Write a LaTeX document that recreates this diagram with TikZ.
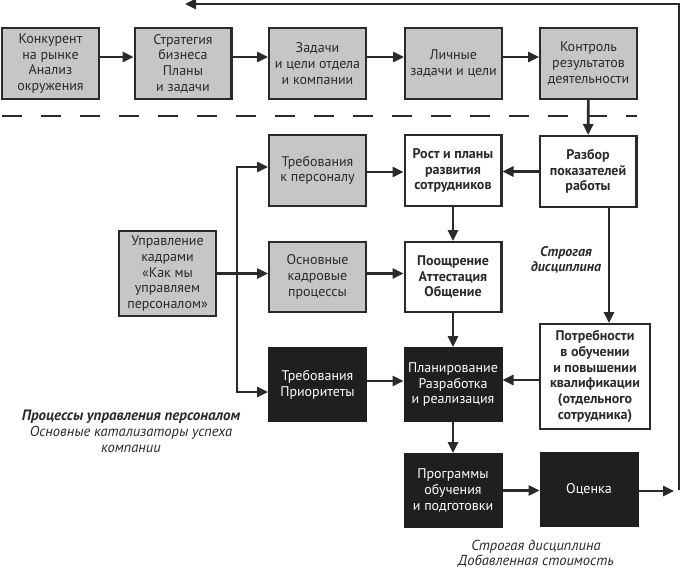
\documentclass[tikz,border=0pt]{standalone}
\usepackage{fontspec}
\setmainfont{PT Sans}
\usetikzlibrary{arrows.meta}
\definecolor{boxgray}{HTML}{C6C6C6}
\definecolor{boxdark}{HTML}{1F1F1F}
\definecolor{linegray}{HTML}{2A2A2A}
\begin{document}
\begin{tikzpicture}[x=1pt,y=-1pt,
    box/.style={draw=linegray,line width=2.4pt,minimum width=96.6pt,minimum height=70.6pt,
      align=center,inner sep=1pt,text=linegray,font=\fontsize{14}{15.7}\selectfont},
    graybox/.style={box,fill=boxgray},
    whitebox/.style={box,fill=white,font=\fontsize{14}{15.7}\selectfont\bfseries},
    darkbox/.style={box,fill=boxdark,draw=boxdark,text=white},
    note/.style={align=center,text=linegray,font=\fontsize{14.5}{16}\selectfont\itshape},
    >={Triangle[length=11pt,width=10pt]}]
  \useasboundingbox (0,0) rectangle (681,570);
  \draw
    (50.5,63.5) node[graybox] (konk){Конкурент\\на рынке\\Анализ\\окружения}
    (183,63.5) node[graybox] (strat){Стратегия\\бизнеса\\Планы\\и задачи}
    (317.5,63.5) node[graybox] (zad){Задачи\\и цели отдела\\и компании}
    (453.5,63.5) node[graybox] (lich){Личные\\задачи и цели}
    (588.5,63.5) node[graybox] (kontr){Контроль\\результатов\\деятельности}
    (317.5,170.5) node[graybox] (treb){Требования\\к персоналу}
    (453,170.5) node[whitebox] (rost){Рост и планы\\развития\\сотрудников}
    (588,171.5) node[whitebox] (razb){Разбор\\показателей\\работы}
    (167.5,273.5) node[graybox,minimum height=84.6pt] (upr){Управление\\кадрами\\«Как мы\\управляем\\персоналом»}
    (317.5,277) node[graybox,minimum height=69.6pt] (osn){Основные\\кадровые\\процессы}
    (453,277) node[whitebox,minimum height=69.6pt] (pooshch){Поощрение\\Аттестация\\Общение}
    (317.5,384.5) node[darkbox,minimum height=72.6pt] (prior){Требования\\Приоритеты}
    (453,384.5) node[darkbox,minimum height=72.6pt] (plan){Планирование\\Разработка\\и реализация}
    (595,376.5) node[whitebox,minimum width=109.6pt,minimum height=104.6pt] (potr){Потребности\\в обучении\\и повышении\\квалификации\\(отдельного\\сотрудника)}
    (453,490.5) node[darkbox,minimum height=72.6pt] (prog){Программы\\обучения\\и подготовки}
    (589,489.5) node[darkbox,minimum height=72.6pt] (ocen){Оценка};
  \draw
    (566,259.5) node[note,font=\fontsize{14}{15}\selectfont\bfseries\itshape] (disc){Строгая\\дисциплина}
    (131,431) node[note] (proc){{\fontsize{15}{16}\selectfont\bfseries Процессы управления персоналом}\\Основные катализаторы успеха\\компании}
    (536,554) node[note,font=\fontsize{14.5}{15}\selectfont\itshape] (stoim){Строгая дисциплина\\Добавленная стоимость};
  \coordinate (split) at (237,273.5);
  \coordinate (out) at (674,491);
  \coordinate (ret) at (679,490);
  \coordinate (back) at (185,4);
  \draw[linegray,line width=2.6pt,dash pattern=on 20pt off 19pt] (2,116) -- (637,116);
  \begin{scope}[->,draw=linegray,line width=2.6pt]
    \draw ([yshift=6.5pt]konk.east) to ([yshift=6.5pt]strat.west);
    \draw ([yshift=6.5pt]strat.east) to ([yshift=6.5pt]zad.west);
    \draw ([yshift=6.5pt]zad.east) to ([yshift=6.5pt]lich.west);
    \draw ([yshift=6.5pt]lich.east) to ([yshift=6.5pt]kontr.west);
    \draw (kontr) to (razb);
    \draw ([yshift=-1.5pt]treb.east) to ([yshift=-1.5pt]rost.west);
    \draw (razb.west) to (razb.west -| rost.east);
    \draw (upr.east) to (upr.east -| osn.west);
    \draw (split) |- ([yshift=3.5pt]treb.west);
    \draw (split) |- ([yshift=-7.5pt]prior.west);
    \draw (osn.east |- split) to (pooshch.west |- split);
    \draw (rost) to (pooshch);
    \draw (pooshch) to (plan);
    \draw ([yshift=3.5pt]prior.east) to ([yshift=3.5pt]plan.west);
    \draw ([xshift=21pt]razb.south) to ([xshift=21pt]razb.south |- potr.north);
    \draw ([yshift=4.5pt]plan.east -| potr.west) to ([yshift=4.5pt]plan.east);
    \draw (plan) to (prog);
    \draw (prog.east) to (prog.east -| ocen.west);
    \draw (ocen.east |- out) to (out);
    \draw (ret) |- (back);
  \end{scope}
\end{tikzpicture}
\end{document}
